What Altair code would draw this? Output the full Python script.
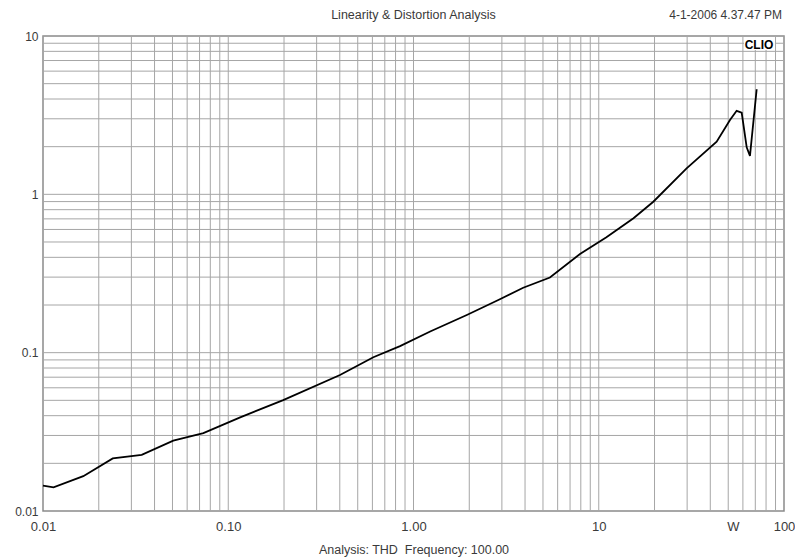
import altair as alt
import pandas as pd

# THD curve (output power W vs THD %)
thd_x = [0.01, 0.0114, 0.0165, 0.0238, 0.0341, 0.0505, 0.0734, 0.116, 0.198, 0.401,
         0.607, 0.846, 1.23, 1.94, 2.87, 3.91, 5.45, 7.92, 11.0, 15.4, 19.7, 29.8,
         43.3, 51.1, 55.5, 59.1, 62.9, 65.5, 71.2]
thd_y = [0.01445, 0.0141, 0.0166, 0.0215, 0.0226, 0.0278, 0.031, 0.039, 0.0502, 0.0723,
         0.0935, 0.110, 0.136, 0.173, 0.215, 0.257, 0.298, 0.42, 0.535, 0.706, 0.898, 1.46,
         2.15, 2.95, 3.37, 3.28, 1.98, 1.75, 4.61]

x_tick_values = [0.01, 0.1, 1, 10, 53, 100]
x_tick_labels = ["0.01", "0.10", "1.00", "10", "W", "100"]
y_tick_values = [0.01, 0.1, 1, 10]
y_tick_labels = ["0.01", "0.1", "1", "10"]

title_text = "Linearity & Distortion Analysis"
date_text = "4-1-2006 4.37.47 PM"
x_title = "Analysis: THD \u00a0Frequency: 100.00"
brand_text = "CLIO"

W, H = 741, 475
GRID = "#a6a6a6"
TXT = "#3a3a3a"


def label_expr(values, labels):
    expr = f"'{labels[-1]}'"
    for v, l in reversed(list(zip(values[:-1], labels[:-1]))):
        expr = f"datum.value < {v * 1.01} ? '{l}' : " + expr
    return expr


curve = pd.DataFrame({"x": thd_x, "y": thd_y})

vgrid = pd.DataFrame({"x": [k * 10.0 ** d for d in range(-2, 2) for k in range(1, 10)
                            if not (d == -2 and k == 1)]})
hgrid = pd.DataFrame({"y": [k * 10.0 ** d for d in range(-2, 1) for k in range(1, 10)
                            if not (d == -2 and k == 1)] + [10.0]})

xs = alt.Scale(type="log", domain=[0.01, 100], nice=False)
ys = alt.Scale(type="log", domain=[0.01, 10], nice=False)

x_axis = alt.Axis(values=x_tick_values, labelExpr=label_expr(x_tick_values, x_tick_labels),
                  grid=False, ticks=False, domain=False, title=x_title,
                  labelPadding=9, titlePadding=10, labelFontSize=13, titleFontSize=12.5,
                  titleFontWeight="normal", labelColor=TXT, titleColor=TXT,
                  labelFlush=False, labelOverlap=False)
y_axis = alt.Axis(values=y_tick_values, labelExpr=label_expr(y_tick_values, y_tick_labels),
                  grid=False, ticks=False, domain=False, title=None,
                  labelPadding=5, labelFontSize=12, labelColor=TXT,
                  labelFlush=False, labelOverlap=False)

v_rules = alt.Chart(vgrid).mark_rule(color=GRID, strokeWidth=1).encode(
    x=alt.X("x:Q", scale=xs, axis=x_axis))
h_rules = alt.Chart(hgrid).mark_rule(color=GRID, strokeWidth=1).encode(
    y=alt.Y("y:Q", scale=ys, axis=y_axis))

line = alt.Chart(curve).mark_line(color="black", strokeWidth=1.8).encode(
    x=alt.X("x:Q", scale=xs, axis=x_axis),
    y=alt.Y("y:Q", scale=ys, axis=y_axis),
    order=alt.Order("x:Q"),
)

brand_box = alt.Chart(pd.DataFrame({"t": [brand_text]})).mark_rect(color="white").encode(
    x=alt.value(701), x2=alt.value(732), y=alt.value(1), y2=alt.value(14))
brand = alt.Chart(pd.DataFrame({"t": [brand_text]})).mark_text(
    fontWeight="bold", fontSize=12, color="black", align="center", baseline="middle").encode(
    x=alt.value(716), y=alt.value(9), text="t:N")

title = alt.Chart(pd.DataFrame({"t": [title_text]})).mark_text(
    fontSize=12.5, color=TXT, align="center", baseline="middle").encode(
    x=alt.value(W / 2), y=alt.value(-21), text="t:N")
date = alt.Chart(pd.DataFrame({"t": [date_text]})).mark_text(
    fontSize=12, color=TXT, align="right", baseline="middle").encode(
    x=alt.value(W - 2), y=alt.value(-21), text="t:N")

chart = alt.layer(v_rules, h_rules, line, brand_box, brand, title, date).properties(
    width=W, height=H,
    autosize=alt.AutoSizeParams(type="none"),
    padding={"left": 35, "top": 28, "right": 11, "bottom": 48},
).configure(font="Liberation Sans").configure_view(stroke="#8a8a8a", strokeWidth=1.5)

chart.save("out.html", embed_options={"renderer": "svg", "actions": False})
